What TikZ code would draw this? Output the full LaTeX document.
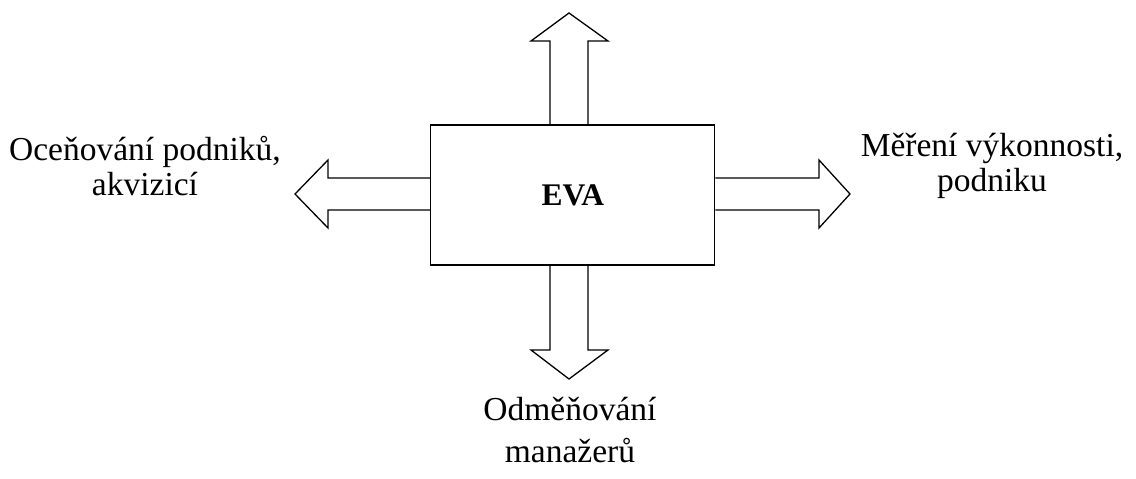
\documentclass[tikz,border=0pt]{standalone}
\usepackage{fontspec}
\setmainfont{Liberation Serif}
\begin{document}
\begin{tikzpicture}[x=1pt,y=-1pt,
  lbl/.style={align=center,font=\fontsize{33.5}{35}\selectfont,inner sep=0pt},
  fat/.style={draw=black,line width=1.3pt,line join=miter}]
\useasboundingbox (0,0) rectangle (1136,479);
\node[fat,minimum width=284pt,minimum height=140pt,inner sep=0pt] (box) at (572.8,195) {};
\node[font=\fontsize{31.5}{34}\selectfont\bfseries] (eva) at (box.center) {EVA};
% up arrow
\draw[fat] (box.north -| 550,0) -- (550,41) -- (531,41) -- (569,13) -- (608,41) -- (588,41) -- (box.north -| 588,0);
% down arrow
\draw[fat] (box.south -| 550,0) -- (550,350) -- (531,350) -- (569,379) -- (608,350) -- (588,350) -- (box.south -| 588,0);
% left arrow
\draw[fat] (box.west |- 0,178) -- (328,178) -- (328,160) -- (295,194) -- (328,228) -- (328,210) -- (box.west |- 0,210);
% right arrow
\draw[fat] (box.east |- 0,178) -- (819,178) -- (819,160) -- (850,194) -- (819,228) -- (819,210) -- (box.east |- 0,210);
\node[lbl] (left) at (145,166) {Oceňování podniků,\\akvizicí};
\node[lbl] (right) at (992,166) {Měření výkonnosti,\\podniku};
\node[lbl,font=\fontsize{33.5}{42}\selectfont] (bottom) at (570,430) {Odměňování\\manažerů};
\end{tikzpicture}
\end{document}
